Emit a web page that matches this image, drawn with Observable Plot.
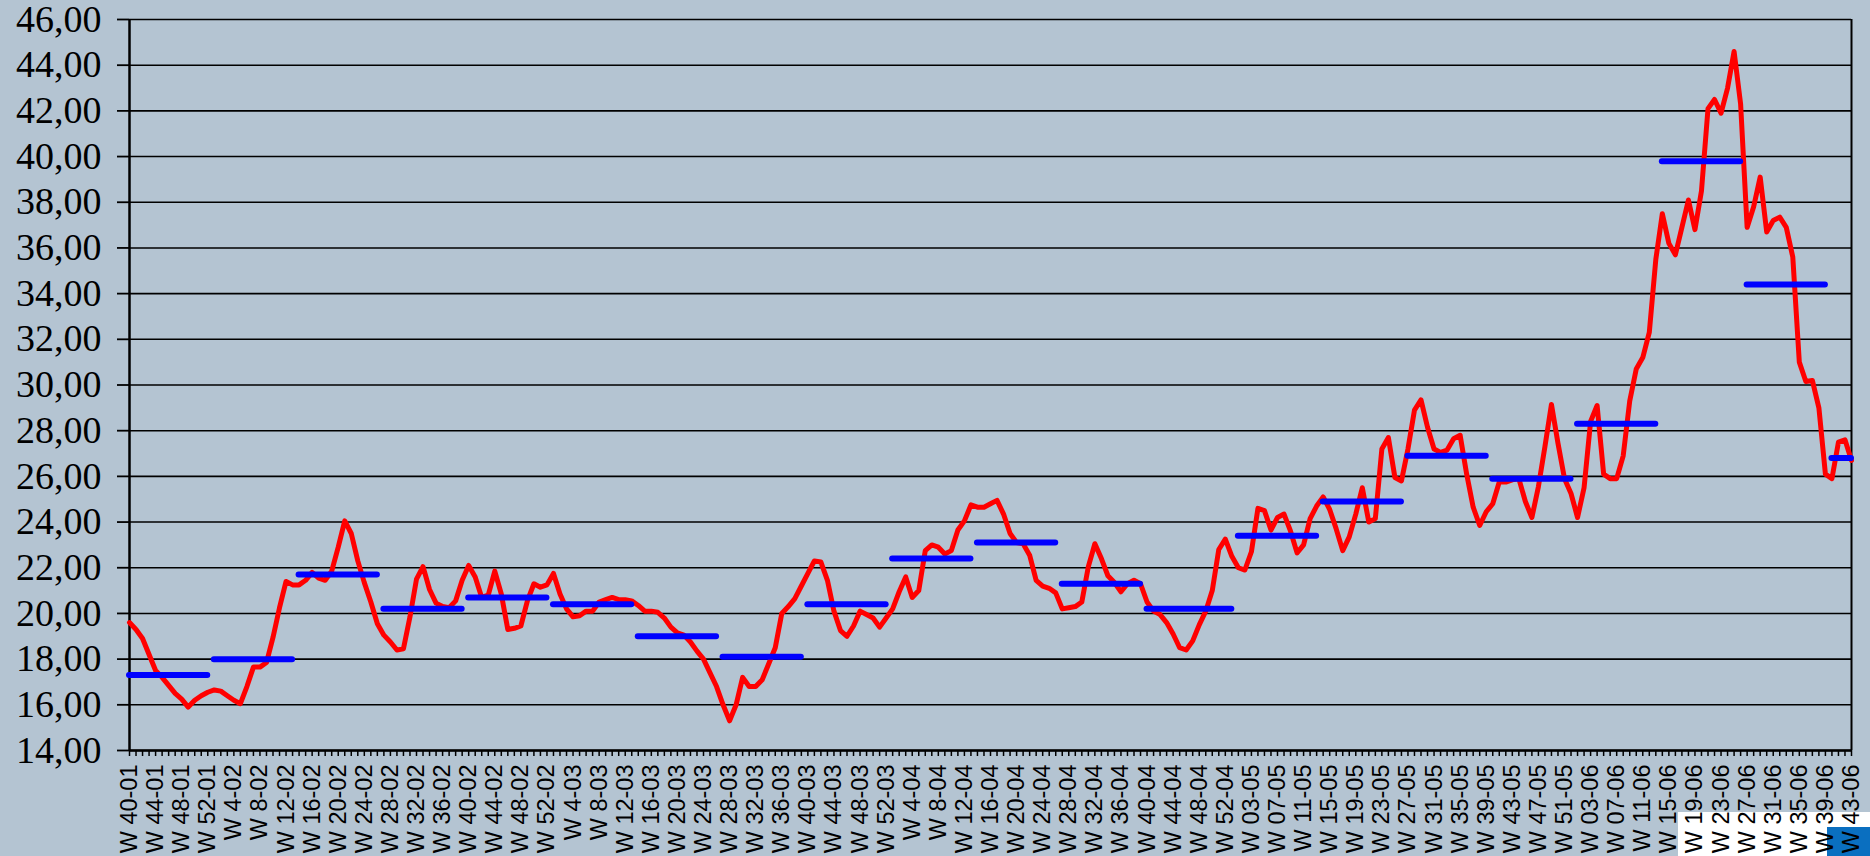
<!DOCTYPE html>
<html>
<head>
<meta charset="utf-8">
<script src="https://cdn.jsdelivr.net/npm/d3@7"></script>
<script src="https://cdn.jsdelivr.net/npm/@observablehq/plot@0.6"></script>
<style>
  html, body { margin: 0; padding: 0; background: #b4c4d2; width: 1870px; height: 856px; overflow: hidden; }
  #wrap { position: relative; width: 1870px; height: 856px; }
  #logo-white { position: absolute; left: 1678px; top: 812px; width: 192px; height: 44px; background: #ffffff; }
  #logo-blue { position: absolute; left: 1827px; top: 827px; width: 43px; height: 29px; background: #0a6fc0; }
  #chart { position: absolute; left: 0; top: 0; }
</style>
</head>
<body>
<div id="wrap">
  <div id="logo-white"></div>
  <div id="logo-blue"></div>
  <div id="chart"></div>
</div>
<script>
// Weeks covered per year: [year, firstWeek, lastWeek]
const yearSpans = [[2001, 40, 52], [2002, 1, 52], [2003, 1, 52], [2004, 1, 53], [2005, 1, 52], [2006, 1, 43]];

// Weekly price (red line), W40-01 ... W43-06
const weeklyValues = [
  // 2001 W40-52
  19.6, 19.3, 18.9, 18.2, 17.5, 17.2, 16.85, 16.5, 16.25, 15.9, 16.2, 16.4, 16.55,
  // 2002 W1-13
  16.65, 16.6, 16.4, 16.2, 16.05, 16.8, 17.65, 17.65, 17.85, 18.95, 20.25, 21.4, 21.25,
  // 2002 W14-26
  21.25, 21.45, 21.8, 21.55, 21.45, 21.85, 22.9, 24.05, 23.5, 22.3, 21.35, 20.5, 19.55,
  // 2002 W27-39
  19.05, 18.75, 18.4, 18.45, 19.85, 21.5, 22.05, 21.05, 20.45, 20.3, 20.25, 20.55, 21.45,
  // 2002 W40-52
  22.1, 21.6, 20.7, 20.8, 21.85, 20.85, 19.3, 19.35, 19.45, 20.55, 21.3, 21.15, 21.25,
  // 2003 W1-13
  21.75, 20.85, 20.2, 19.85, 19.9, 20.1, 20.1, 20.5, 20.6, 20.7, 20.6, 20.6, 20.55,
  // 2003 W14-26
  20.35, 20.1, 20.1, 20.05, 19.8, 19.4, 19.15, 19.05, 18.75, 18.35, 18.0, 17.4, 16.8,
  // 2003 W27-39
  16.0, 15.3, 16.0, 17.2, 16.8, 16.8, 17.1, 17.8, 18.5, 20.0, 20.3, 20.65, 21.2,
  // 2003 W40-52
  21.75, 22.3, 22.25, 21.45, 20.1, 19.25, 19.0, 19.45, 20.1, 19.95, 19.8, 19.4, 19.8,
  // 2004 W1-13
  20.2, 20.95, 21.6, 20.7, 21.0, 22.75, 23.0, 22.9, 22.6, 22.75, 23.65, 24.05, 24.75,
  // 2004 W14-26
  24.65, 24.65, 24.8, 24.95, 24.35, 23.5, 23.1, 23.05, 22.55, 21.45, 21.2, 21.1, 20.9,
  // 2004 W27-39
  20.2, 20.25, 20.3, 20.5, 22.05, 23.05, 22.4, 21.65, 21.35, 20.95, 21.3, 21.45, 21.3,
  // 2004 W40-53
  20.5, 20.1, 19.95, 19.6, 19.1, 18.5, 18.4, 18.8, 19.5, 20.1, 21.0, 22.8, 23.25, 22.5,
  // 2005 W1-13
  22.0, 21.9, 22.7, 24.6, 24.5, 23.65, 24.2, 24.35, 23.6, 22.65, 23.0, 24.15, 24.7,
  // 2005 W14-26
  25.1, 24.55, 23.7, 22.75, 23.35, 24.35, 25.5, 24.0, 24.15, 27.2, 27.7, 25.95, 25.8,
  // 2005 W27-39
  27.2, 28.9, 29.35, 28.15, 27.2, 27.05, 27.15, 27.65, 27.8, 26.1, 24.65, 23.85, 24.45,
  // 2005 W40-52
  24.8, 25.75, 25.75, 25.85, 25.9, 24.9, 24.2, 25.55, 27.3, 29.15, 27.45, 25.9, 25.25,
  // 2006 W1-13
  24.2, 25.5, 28.4, 29.1, 26.1, 25.9, 25.9, 26.9, 29.3, 30.7, 31.2, 32.3, 35.5,
  // 2006 W14-26
  37.5, 36.2, 35.7, 36.9, 38.1, 36.8, 38.5, 42.1, 42.5, 41.9, 43.0, 44.6, 42.3,
  // 2006 W27-39
  36.9, 37.8, 39.1, 36.7, 37.2, 37.35, 36.9, 35.6, 31.0, 30.15, 30.2, 29.0, 26.1,
  // 2006 W40-43
  25.9, 27.5, 27.6, 26.7
];

// Quarterly averages (blue bars), Q4-01 ... Q4-06
const quarterAverages = [17.3, 18.0, 21.7, 20.2, 20.7, 20.4, 19.0, 18.1, 20.4, 22.4, 23.1, 21.3, 20.2,
                         23.4, 24.9, 26.9, 25.9, 28.3, 39.8, 34.4, 26.8];

// X tick labels, one every 4 weeks
const xTickLabels = [
  "W 40-01", "W 44-01", "W 48-01", "W 52-01",
  "W 4-02", "W 8-02", "W 12-02", "W 16-02", "W 20-02", "W 24-02", "W 28-02", "W 32-02", "W 36-02", "W 40-02", "W 44-02", "W 48-02", "W 52-02",
  "W 4-03", "W 8-03", "W 12-03", "W 16-03", "W 20-03", "W 24-03", "W 28-03", "W 32-03", "W 36-03", "W 40-03", "W 44-03", "W 48-03", "W 52-03",
  "W 4-04", "W 8-04", "W 12-04", "W 16-04", "W 20-04", "W 24-04", "W 28-04", "W 32-04", "W 36-04", "W 40-04", "W 44-04", "W 48-04", "W 52-04",
  "W 03-05", "W 07-05", "W 11-05", "W 15-05", "W 19-05", "W 23-05", "W 27-05", "W 31-05", "W 35-05", "W 39-05", "W 43-05", "W 47-05", "W 51-05",
  "W 03-06", "W 07-06", "W 11-06", "W 15-06", "W 19-06", "W 23-06", "W 27-06", "W 31-06", "W 35-06", "W 39-06", "W 43-06"
];

// Y ticks
const yTicks = [14, 16, 18, 20, 22, 24, 26, 28, 30, 32, 34, 36, 38, 40, 42, 44, 46];

// ---- build tables ----
const weeks = [];
for (const [year, w0, w1] of yearSpans) {
  for (let w = w0; w <= w1; w++) {
    const q = w <= 13 ? 1 : w <= 26 ? 2 : w <= 39 ? 3 : 4;
    weeks.push({key: year + "-" + w, year, week: w, quarter: year + "Q" + q});
  }
}
const weekKeys = weeks.map(d => d.key);
const weekly = weeks.map((d, i) => ({key: d.key, value: weeklyValues[i]}));

const quarterKeys = [];
const quarterFirst = new Map(), quarterLast = new Map();
for (const d of weeks) {
  if (!quarterFirst.has(d.quarter)) { quarterFirst.set(d.quarter, d.key); quarterKeys.push(d.quarter); }
  quarterLast.set(d.quarter, d.key);
}
const quarters = quarterKeys.map((q, i) => ({q, x1: quarterFirst.get(q), x2: quarterLast.get(q), value: quarterAverages[i]}));

const labelByKey = new Map();
xTickLabels.forEach((lab, k) => labelByKey.set(weekKeys[k * 4], lab));

const fmtY = d => d.toFixed(2).replace(".", ",");

const chart = Plot.plot({
  width: 1870,
  height: 856,
  marginLeft: 129,
  marginRight: 19,
  marginTop: 19,
  marginBottom: 106,
  style: {background: "transparent", color: "#000", overflow: "visible"},
  x: {type: "point", domain: weekKeys, padding: 0},
  y: {domain: [14, 46]},
  marks: [
    Plot.gridY(yTicks, {stroke: "#000", strokeOpacity: 1, strokeWidth: 1.6}),
    Plot.ruleX([weekKeys[weekKeys.length - 1]], {stroke: "#000", strokeWidth: 2}),
    Plot.axisY(yTicks, {
      tickFormat: fmtY, fontSize: 38, fontFamily: "Liberation Serif",
      tickSize: 12, tickPadding: 16, strokeWidth: 1.8, label: null
    }),
    Plot.axisX(weekKeys, {
      tickFormat: d => labelByKey.get(d) ?? "", tickRotate: -90,
      fontSize: 23.5, fontFamily: "Liberation Sans",
      tickSize: 6, tickPadding: 8, strokeWidth: 1.5, label: null
    }),
    Plot.ruleX([weekKeys[0]], {stroke: "#000", strokeWidth: 2.5}),
    Plot.ruleY([14], {stroke: "#000", strokeWidth: 2.5}),
    Plot.line(weekly, {x: "key", y: "value", stroke: "#ff0000", strokeWidth: 5, strokeLinejoin: "round", strokeLinecap: "round"}),
    Plot.ruleY(quarters, {x1: "x1", x2: "x2", y: "value", stroke: "#0000ff", strokeWidth: 6, strokeLinecap: "round"})
  ]
});
document.getElementById("chart").appendChild(chart);
</script>
</body>
</html>
